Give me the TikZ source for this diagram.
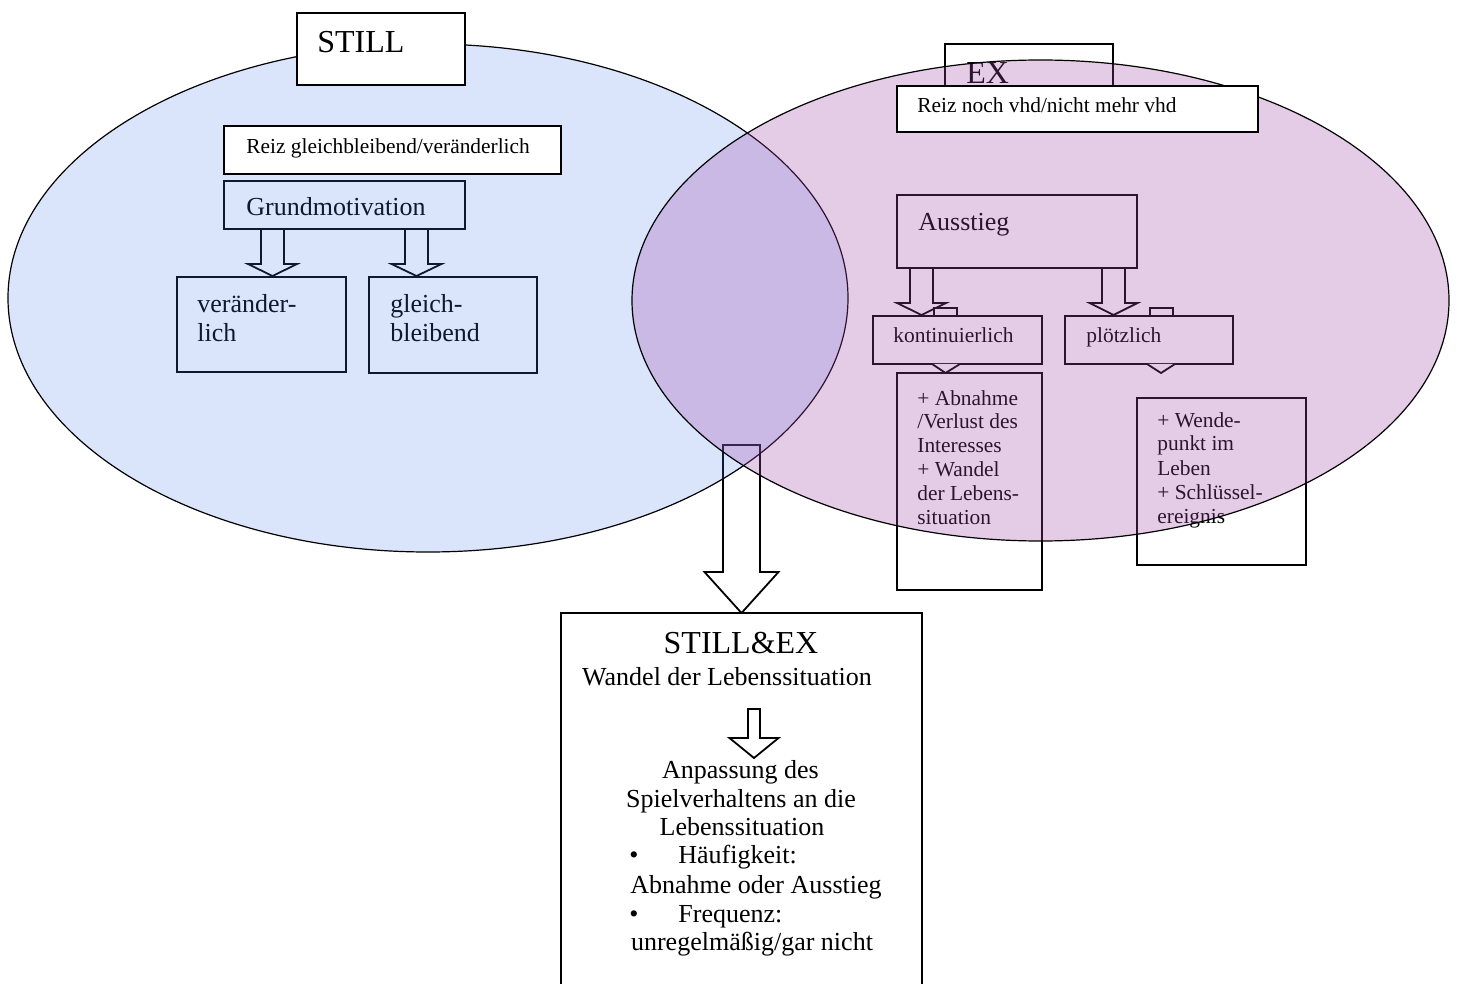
\documentclass[tikz,border=0pt]{standalone}
\usepackage{fontspec}
\setmainfont{Liberation Serif}
\usetikzlibrary{fit}
\definecolor{stillblue}{RGB}{70,125,240}
\definecolor{expink}{RGB}{161,71,168}
\tikzset{
  box/.style={draw=black, line width=0.9pt, fill=white, inner sep=0pt},
  blk/.style={draw=black, line width=0.9pt, fill=white, line join=miter},
  big/.style={font=\fontsize{16}{19}\selectfont, inner sep=0pt},
  mid/.style={font=\fontsize{13}{15.5}\selectfont, inner sep=0pt},
  sml/.style={font=\fontsize{10.7}{12.8}\selectfont, inner sep=0pt},
  lbl/.style={anchor=base west},
  ctr/.style={anchor=base},
}
\newcommand\blockarr[6]{% cx, shaft half, head half, ytop, yhead, ytip
  \draw[blk] ({#1-#2},#4) -- ({#1-#2},#5) -- ({#1-#3},#5) -- (#1,#6) -- ({#1+#3},#5) -- ({#1+#2},#5) -- ({#1+#2},#4) -- cycle;}
\begin{document}
\begin{tikzpicture}[x=0.5pt,y=-0.5pt]
\useasboundingbox (0,0) rectangle (1457,984);
\clip (0,0) rectangle (1457,984);
\fill[white] (0,0) rectangle (1457,984);

% ---------- items lying under the ellipses ----------
% STILL side
\node[box, fit={(224,181) (465,229)}] (gm) {};
\node[mid, lbl] (gmt) at (246,216) {Grundmotivation};
\blockarr{272.5}{11.5}{24.5}{229}{264}{276}
\blockarr{416.5}{11.5}{25}{229}{264}{276}
\node[box, fit={(177,277) (346,372)}] (ver) {};
\node[mid, lbl] (ver1) at (197,313) {veränder-};
\node[mid, lbl] (ver2) at (197,342) {lich};
\node[box, fit={(369,277) (537,373)}] (gle) {};
\node[mid, lbl] (gle1) at (390,313) {gleich-};
\node[mid, lbl] (gle2) at (390,342) {bleibend};

% EX side
\node[box, fit={(945,44) (1113,116)}] (ex) {};
\node[big, lbl] (ext) at (966,84) {EX};
\node[box, fit={(897,195) (1137,268)}] (aus) {};
\node[mid, lbl] (aust) at (918,231) {Ausstieg};
\blockarr{921.5}{11.5}{24.5}{268}{303}{315}
\blockarr{1113.5}{11.5}{24}{268}{303}{315}
\draw[blk] (934,320) -- (934,308) -- (957,308) -- (957,320);
\draw[blk] (1150,320) -- (1150,308) -- (1173,308) -- (1173,320);
\node[box, fit={(873,316) (1042,364)}] (kon) {};
\node[sml, lbl] (kont) at (893,343) {kontinuierlich};
\node[box, fit={(1065,316) (1233,364)}] (plo) {};
\node[sml, lbl] (plot) at (1086,343) {plötzlich};
\node[box, fit={(897,373) (1042,590)}] (abn) {};
\draw[blk] (932,364) -- (945.5,373) -- (960,364);
\draw[blk] (1147,364) -- (1161,373) -- (1175,364);
\node[sml, lbl] (abn1) at (917,405) {+ Abnahme};
\node[sml, lbl] (abn2) at (917,428.8) {/Verlust des};
\node[sml, lbl] (abn3) at (917,452.6) {Interesses};
\node[sml, lbl] (abn4) at (917,476.4) {+ Wandel};
\node[sml, lbl] (abn5) at (917,500.2) {der Lebens-};
\node[sml, lbl] (abn6) at (917,524) {situation};
\node[box, fit={(1137,398) (1306,565)}] (wen) {};
\node[sml, lbl] (wen1) at (1157,427) {+ Wende-};
\node[sml, lbl] (wen2) at (1157,451) {punkt im};
\node[sml, lbl] (wen3) at (1157,475) {Leben};
\node[sml, lbl] (wen4) at (1157,499) {+ Schlüssel-};
\node[sml, lbl] (wen5) at (1157,523) {ereignis};

% big arrow to the common box
\blockarr{741.5}{18.5}{37}{445}{572}{613}

% ---------- the two ellipses ----------
\fill[stillblue, fill opacity=0.2] (428,298) ellipse [x radius=210pt, y radius=127pt];
\draw[black, line width=0.6pt] (428,298) ellipse [x radius=210pt, y radius=127pt];
\fill[expink, fill opacity=0.28] (1040.5,300.5) ellipse [x radius=204.25pt, y radius=120.25pt];
\draw[black, line width=0.6pt] (1040.5,300.5) ellipse [x radius=204.25pt, y radius=120.25pt];

% ---------- items lying on top ----------
\node[box, fit={(297,13) (465,85)}] (still) {};
\node[big, lbl] (stillt) at (317,53) {STILL};
\node[box, fit={(224,126) (561,174)}] (reizs) {};
\node[sml, lbl] (reizst) at (246,154) {Reiz gleichbleibend/veränderlich};
\node[box, fit={(897,86) (1258,132)}] (reize) {};
\node[sml, lbl] (reizet) at (917,113) {Reiz noch vhd/nicht mehr vhd};

% ---------- common box ----------
\node[box, fit={(561,613) (922,1000)}] (both) {};
\node[big, ctr] (botht) at (741,653) {STILL\&EX};
\node[mid, ctr] (both1) at (727,685) {Wandel der Lebenssituation};
\blockarr{754}{6}{24.5}{709}{738}{758}
\node[mid, ctr] (both2) at (740.5,778) {Anpassung des};
\node[mid, ctr] (both3) at (741,807) {Spielverhaltens an die};
\node[mid, ctr] (both4) at (742,835) {Lebenssituation};
\node[mid, lbl] (bul1) at (629,863) {\textbullet};
\node[mid, lbl] (both5) at (678,863) {Häufigkeit:};
\node[mid, ctr] (both6) at (756,893) {Abnahme oder Ausstieg};
\node[mid, lbl] (bul2) at (629,922) {\textbullet};
\node[mid, lbl] (both7) at (678,922) {Frequenz:};
\node[mid, ctr] (both8) at (752,950) {unregelmäßig/gar nicht};
\end{tikzpicture}
\end{document}
